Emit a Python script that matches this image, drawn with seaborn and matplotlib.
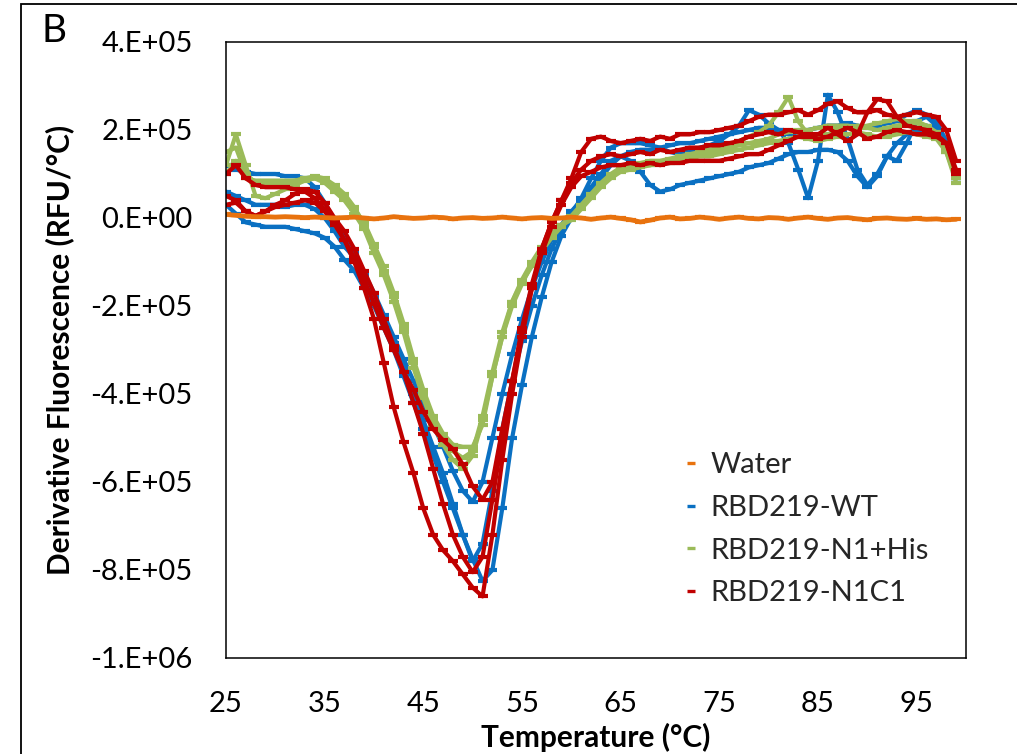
import numpy as np
import pandas as pd
import matplotlib
matplotlib.use("Agg")
import matplotlib.pyplot as plt
import seaborn as sns
from matplotlib.lines import Line2D
from matplotlib.patches import Rectangle

# ---------------- data (values in units of 1e4 RFU/°C) ----------------
TEMP = list(range(25, 100))
SCALE = 1e4

WATER = [0.8, 0.6, 0.4, 0.3, 0.3, 0.2, 0.3, 0.2, 0.1, 0.2,
         0.1, 0.0, 0.1, 0.2, 0.0, -0.2, 0.0, 0.3, 0.1, -0.1,
         0.0, 0.2, 0.1, -0.2, 0.0, 0.1, -0.1, 0.0, 0.2, 0.0,
         -0.2, 0.0, 0.1, -0.1, 0.0, 0.2, 0.0, -0.3, 0.0, 0.2,
         -0.1, -0.4, -0.9, -0.5, 0.0, 0.2, -0.2, -0.1, 0.2, 0.0,
         -0.3, 0.0, 0.2, -0.1, -0.2, 0.1, 0.0, -0.3, 0.0, 0.2,
         -0.1, -0.3, 0.0, 0.1, -0.2, -0.4, -0.1, 0.0, -0.2, -0.3,
         -0.1, -0.3, -0.2, -0.4, -0.3]

WT_1 = [12, 11, 10.5, 10, 10, 10, 9.5, 9.5, 9, 7,
        3.5, -0.5, -4.5, -8, -12.5, -17, -22, -27, -32, -37,
        -42, -47, -52, -57.5, -62, -64.5, -60, -50, -40, -31,
        -23, -16, -10, -5, -1.5, 1.5, 4, 7, 10, 13,
        14, 13, 10.5, 7.5, 6, 6.5, 7.5, 8, 8.5, 9,
        9.5, 10, 10.5, 11.5, 12, 12.5, 13.5, 14.5, 15, 15,
        15.5, 15.5, 15, 13, 9.5, 7, 9.5, 14, 17, 19,
        20, 21, 20, 16, 9]
WT_2 = [6, 5, 4, 3, 3, 3, 2.5, 3, 3, 2,
        0, -3, -6.5, -9, -13.5, -18, -23, -28.5, -34, -40,
        -46, -52, -58, -65, -72, -78, -74, -62, -48, -37,
        -28, -20, -13, -7, -2.5, 1, 4.5, 9, 13, 16,
        17, 17, 17, 16.5, 16, 15, 14.5, 15, 16, 16.5,
        17.5, 19, 21, 24.5, 23.5, 21.5, 20, 19, 19.5, 20,
        20.5, 21, 21, 21.5, 21, 20.5, 21, 21.5, 22, 23.5,
        24.5, 23.5, 22, 17.5, 9]
WT_3 = [3, 1, -1, -1.5, -2, -2, -2, -2.5, -3, -3.5,
        -4.5, -6.5, -9.5, -12, -16, -20, -25, -30, -36, -42,
        -48, -54, -60, -66, -72, -77.5, -82.5, -80, -66, -50,
        -38, -27, -18, -10, -4, 0, 3, 6, 9, 12,
        14, 15, 15.5, 15.5, 16, 16.5, 17, 17, 17.5, 18,
        18.5, 19, 19.5, 20, 20.5, 20.5, 20, 17, 11, 4.5,
        13, 28, 24, 18, 11, 7.5, 10, 14, 13, 17,
        22, 23, 21, 16, 9]

HIS_1 = [12, 19, 12, 5, 4.5, 5.5, 6.5, 7.5, 8.5, 9,
         8.5, 7, 4.5, 2, -1, -6, -11, -17, -24, -32,
         -39, -45, -49, -51.5, -52, -52, -47, -36, -27, -19,
         -14.5, -11, -7.5, -4.5, -2, 0, 2.5, 5, 7.5, 9.5,
         11, 11.5, 12, 12, 12.5, 13, 13.5, 14, 14.5, 15,
         15.5, 16, 16.5, 17, 17.5, 18, 19, 19.5, 20, 20,
         20.5, 21, 21, 21, 20.5, 21, 21.5, 22, 22.5, 22,
         21.5, 21, 19.5, 16, 9]
HIS_2 = [15, 16, 10, 8, 7.5, 7.5, 8, 8.5, 9, 9,
         8, 6, 4, 1, -2.5, -8, -13, -19, -26, -34,
         -41, -47, -51.5, -55, -57, -54, -46, -36, -27, -20,
         -15, -10.5, -7, -4, -1.5, 0.5, 3, 5.5, 8, 10,
         11.5, 12, 12.5, 13, 13, 13.5, 14, 14.5, 15, 15.5,
         16, 16.5, 17.5, 18.5, 19.5, 21, 24, 27.5, 22, 19,
         18.5, 19, 20, 20.5, 21, 20.5, 20, 20.5, 21, 21.5,
         22, 21, 19, 15, 8]
HIS_3 = [10, 13, 9, 8.5, 8.5, 8.5, 8.5, 8.5, 9, 9.5,
         9, 7.5, 5.5, 2.5, -1.5, -6.5, -12, -18, -25, -33,
         -40, -46, -50, -53, -54.5, -53, -45, -35, -26, -19,
         -14, -10, -6.5, -3.5, -1.5, -0.5, 2, 4.5, 7, 9,
         10.5, 11, 11.5, 12, 12.5, 12.5, 13, 13.5, 14, 14,
         14.5, 15, 15.5, 16, 16.5, 17, 17.5, 18, 18.5, 18,
         17.5, 18, 18.5, 19, 19.5, 19, 18.5, 18.5, 19, 19.5,
         19, 18.5, 18, 15, 9]

N1C1_1 = [10, 12, 9, 7.5, 7, 7, 7, 6.5, 6, 4.5,
          2, -1, -5, -10, -16, -23, -33, -43, -51, -58,
          -66, -72, -75.5, -78, -81, -84, -86, -72, -55, -40,
          -27, -16, -7, -1, 4, 9, 15, 18, 18.5, 17.5,
          17, 17.5, 18, 17.5, 18.5, 18, 19, 19, 19.5, 19.5,
          20, 20.5, 21, 22, 23, 23.5, 23.5, 24, 24.5, 23.5,
          24.5, 26, 26.5, 25, 24, 24, 24.5, 23.5, 23, 23.5,
          24, 23.5, 23, 20, 13]
N1C1_2 = [5, 4, 1.5, 0.5, 1.5, 3, 4, 5.5, 6.5, 6,
          3.5, 0, -3, -7, -12, -17, -23, -29, -35, -42,
          -49, -57, -65, -72, -77, -80.5, -77, -64, -50, -37,
          -25, -15, -7, -1, 4, 8, 11, 13, 14, 14.5,
          14, 14.5, 15, 14.5, 15.5, 15, 15.5, 16, 16, 16.5,
          16.5, 17, 17.5, 18.5, 19, 19.5, 19, 20, 19.5, 18.5,
          19, 20.5, 19, 17.5, 19, 24, 27, 26.5, 23, 21,
          20.5, 20, 19, 17, 11]
N1C1_3 = [3, 3.5, 1.5, 0.5, 1.5, 2.5, 3, 3.5, 4, 3.5,
          1.5, -1.5, -5, -9, -14, -19.5, -25, -30, -35, -39,
          -44, -48, -50.5, -52.5, -56, -61, -64, -60, -48, -37,
          -26, -16, -8, -2, 3, 7, 9.5, 10.5, 11.5, 12,
          12, 12.5, 12, 12.5, 12, 12.5, 12.5, 13, 13, 13,
          13, 13.5, 14, 14.5, 14.5, 15.5, 16.5, 17.5, 18.5, 19,
          18, 18.5, 19.5, 20.5, 19.5, 18, 18.5, 19.5, 20, 19.5,
          19, 19, 18.5, 17, 10]

SAMPLES = ["Water", "RBD219-WT", "RBD219-N1+His", "RBD219-N1C1"]
REPLICATES = {
    "Water": [WATER],
    "RBD219-WT": [WT_1, WT_2, WT_3],
    "RBD219-N1+His": [HIS_1, HIS_2, HIS_3],
    "RBD219-N1C1": [N1C1_1, N1C1_2, N1C1_3],
}
COLORS = {
    "Water": "#E8720E",
    "RBD219-WT": "#0A70C2",
    "RBD219-N1+His": "#9BBB59",
    "RBD219-N1C1": "#C00000",
}
Y_TICKS = [-1e6, -8e5, -6e5, -4e5, -2e5, 0, 2e5, 4e5]
Y_LABELS = ["-1.E+06", "-8.E+05", "-6.E+05", "-4.E+05", "-2.E+05",
            "0.E+00", "2.E+05", "4.E+05"]
X_TICKS = [25, 35, 45, 55, 65, 75, 85, 95]

rows = []
for s, reps in REPLICATES.items():
    for i, vals in enumerate(reps):
        assert len(vals) == len(TEMP), (s, i, len(vals))
        for t, v in zip(TEMP, vals):
            rows.append((s, i, t, v * SCALE))
df = pd.DataFrame(rows, columns=["sample", "rep", "temp", "value"])

# ---------------- plot ----------------
sns.set_theme(style="white")
plt.rcParams["font.family"] = ["Lato", "DejaVu Sans"]

W, H = 1017, 754
fig = plt.figure(figsize=(W / 100, H / 100), dpi=100)
ax = fig.add_axes([226 / W, 1 - 658 / H, 740 / W, 616 / H])

for s in ["RBD219-WT", "RBD219-N1+His", "RBD219-N1C1", "Water"]:
    sub = df[df["sample"] == s]
    c = COLORS[s]
    sns.lineplot(data=sub, x="temp", y="value", units="rep", estimator=None,
                 color=c, marker="_", markersize=6.5, markeredgewidth=3.0,
                 markeredgecolor=c, linewidth=3.0 if s != "Water" else 3.4,
                 legend=False, ax=ax)

ax.set_xlim(25, 100)
ax.set_ylim(-1e6, 4e5)
ax.set_xticks(X_TICKS)
ax.set_xticklabels([str(x) for x in X_TICKS])
ax.set_yticks(Y_TICKS)
ax.set_yticklabels(Y_LABELS)
ax.tick_params(axis="both", length=0, pad=24, labelsize=21, labelcolor="black")
for sp in ax.spines.values():
    sp.set_color("black")
    sp.set_linewidth(1.1)
ax.grid(False)

ax.set_xlabel("Temperature (°C)", fontsize=21.5, fontweight="bold", color="black")
ax.set_ylabel("Derivative Fluorescence (RFU/°C)", fontsize=21.5,
              fontweight="bold", color="black")
ax.xaxis.set_label_coords(0.5, -0.105)
ax.yaxis.set_label_coords(-0.205, 0.5)

handles = [Line2D([0], [0], color=COLORS[s], marker="_", linestyle="none",
                  markersize=6, markeredgewidth=2.4) for s in SAMPLES]
ax.legend(handles, SAMPLES, loc="upper left", bbox_to_anchor=(0.6176, 0.334),
          frameon=False, fontsize=21, handlelength=0.55, handletextpad=0.38,
          labelspacing=0.57, borderaxespad=0, borderpad=0)

fig.text(54 / W, 1 - 31 / H, "B", fontsize=28, ha="center", va="center",
         color="black")
fig.add_artist(Rectangle((21 / W, -0.1), 1.2, (1 - 4 / H) + 0.1,
                         transform=fig.transFigure, fill=False,
                         edgecolor="black", linewidth=1.3))

fig.savefig("out.png", dpi=100)
